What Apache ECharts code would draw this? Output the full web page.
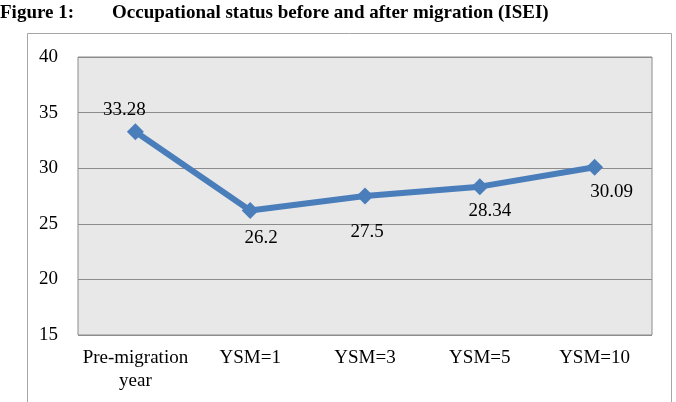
<!DOCTYPE html>
<html>
<head>
<meta charset="utf-8">
<script src="https://cdn.jsdelivr.net/npm/echarts@6/dist/echarts.min.js"></script>
<style>
html, body { margin: 0; padding: 0; background: #fff; }
#chart { width: 676px; height: 402px; }
</style>
</head>
<body>
<div id="chart"></div>
<script>
var categories = ['Pre-migration\nyear', 'YSM=1', 'YSM=3', 'YSM=5', 'YSM=10'];
var values = [33.28, 26.2, 27.5, 28.34, 30.09];
var labelPos = ['top', 'bottom', 'bottom', 'bottom', 'bottom'];
var labelOffset = [[-11, 4], [11, 2], [2, 10], [10, -2], [17, -1]];

var chart = echarts.init(document.getElementById('chart'));
var serif = '"Liberation Serif", "DejaVu Serif", serif';

var option = {
    backgroundColor: '#fff',
    animation: false,
    graphic: [{
        type: 'text',
        left: 0,
        top: 4,
        style: {
            text: 'Figure 1:',
            font: 'bold 19px ' + serif,
            fill: '#000'
        }
    }, {
        type: 'text',
        left: 112,
        top: 4,
        style: {
            text: 'Occupational status before and after migration (ISEI)',
            font: 'bold 19px ' + serif,
            fill: '#000'
        }
    }, {
        type: 'rect',
        shape: { x: 27.5, y: 33.5, width: 644, height: 380 },
        style: { fill: 'none', stroke: '#a6a6a6', lineWidth: 1 },
        z: -1
    }],
    grid: {
        left: 78,
        right: 24,
        top: 57,
        bottom: 67,
        show: true,
        backgroundColor: '#e8e8e8',
        borderColor: '#8c8c8c',
        borderWidth: 1
    },
    xAxis: {
        type: 'category',
        data: categories,
        boundaryGap: true,
        axisLine: { show: false },
        axisTick: { show: false },
        axisLabel: {
            interval: 0,
            margin: 12,
            color: '#000',
            fontFamily: serif,
            fontSize: 19,
            lineHeight: 23
        }
    },
    yAxis: {
        type: 'value',
        min: 15,
        max: 40,
        interval: 5,
        axisLine: { show: false },
        axisTick: { show: false },
        splitLine: { lineStyle: { color: '#8c8c8c', width: 1 } },
        axisLabel: {
            margin: 20,
            color: '#000',
            fontFamily: serif,
            fontSize: 19
        }
    },
    series: [{
        type: 'line',
        data: values.map(function (v, i) {
            return { value: v, label: { position: labelPos[i], offset: labelOffset[i] } };
        }),
        symbol: 'diamond',
        symbolSize: 17,
        lineStyle: { color: '#4a7ebb', width: 6 },
        itemStyle: { color: '#4a7ebb' },
        label: {
            show: true,
            color: '#000',
            fontFamily: serif,
            fontSize: 19,
            distance: 8
        }
    }]
};
chart.setOption(option);
</script>
</body>
</html>
